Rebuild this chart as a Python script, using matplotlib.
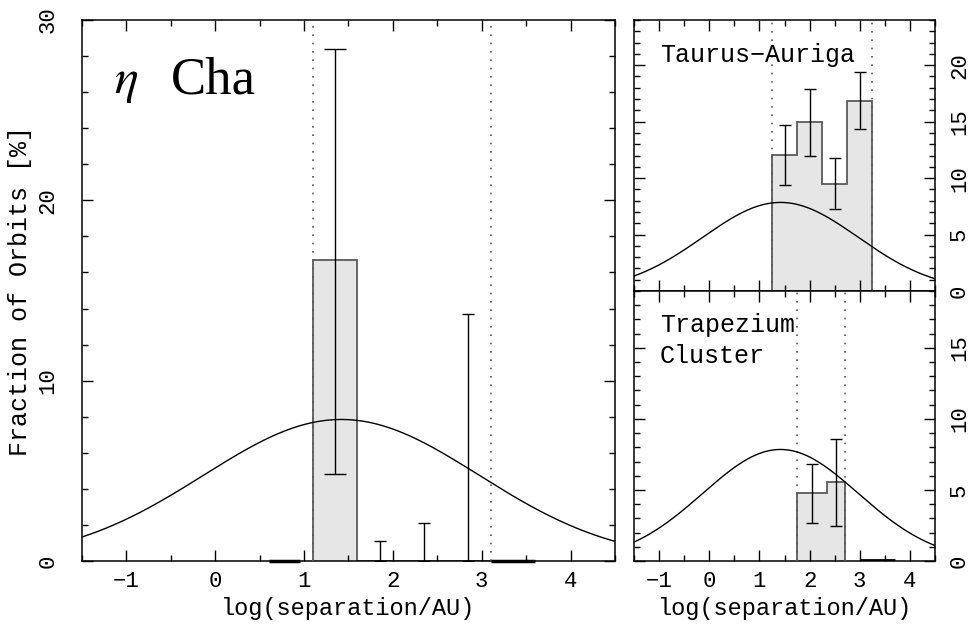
#!/usr/bin/env python3
"""
Separation distributions: eta Cha vs Taurus-Auriga and the Trapezium Cluster,
each compared with the field-star log-normal (peak, mean, width read off the plot).
"""

import numpy as np
import matplotlib.pyplot as plt
from matplotlib.ticker import MultipleLocator

# ---------------------------------------------------------------------------
# Data
# ---------------------------------------------------------------------------
# eta Cha (left panel)
ETA_EDGES = [1.1, 1.6, 2.1, 2.6, 3.1]
ETA_FRAC = [16.67, 0.0, 0.0, 0.0]
ETA_ERR_LOW = [4.85, 0.0, 0.0, 0.0]
ETA_ERR_HIGH = [28.4, 1.1, 2.1, 13.7]
ETA_CAP = [8, 4, 4, 4]
ETA_ZERO_BINS = [(0.6, 0.95), (3.1, 3.6)]
ETA_LIMITS = [1.1, 3.1]

# Taurus-Auriga (top right)
TAU_EDGES = [1.25, 1.75, 2.25, 2.75, 3.25]
TAU_FRAC = [12.05, 15.0, 9.5, 16.85]
TAU_ERR_LOW = [9.4, 12.0, 7.3, 14.35]
TAU_ERR_HIGH = [14.7, 17.9, 11.8, 19.4]
TAU_LIMITS = [1.25, 3.25]

# Trapezium Cluster (bottom right)
TRAP_EDGES = [1.75, 2.35, 2.70]
TRAP_FRAC = [4.76, 5.55]
TRAP_ERR_LOW = [2.69, 2.48]
TRAP_ERR_HIGH = [6.86, 8.62]
TRAP_ZERO_BIN = (3.0, 3.7, 0.1)
TRAP_LIMITS = [1.75, 2.70]

# field-star log-normal
DM_PEAK = 7.85
DM_MEAN = 1.42
DM_SIGMA = 1.55

XLIM = (-1.5, 4.5)

FILL = "#e6e6e6"
EDGE = "#5a5a5a"
MONO = "Liberation Mono"


def field_curve(x):
    return DM_PEAK * np.exp(-0.5 * ((x - DM_MEAN) / DM_SIGMA) ** 2)


def style_axes(ax, ymaj, ymin):
    ax.set_xlim(*XLIM)
    ax.xaxis.set_major_locator(MultipleLocator(1))
    ax.xaxis.set_minor_locator(MultipleLocator(0.5))
    ax.yaxis.set_major_locator(MultipleLocator(ymaj))
    ax.yaxis.set_minor_locator(MultipleLocator(ymin))
    ax.tick_params(which="both", direction="in", top=True, right=True,
                   width=1.0, colors="black")
    ax.tick_params(which="major", length=8)
    ax.tick_params(which="minor", length=4)
    for s in ax.spines.values():
        s.set_linewidth(1.1)


def draw_panel(ax, edges, frac, lo, hi, limits, caps=None):
    x = np.linspace(*XLIM, 400)
    ax.stairs(frac, edges, fill=True, color=FILL, zorder=1)
    ax.stairs(frac, edges, fill=False, edgecolor=EDGE, linewidth=1.3, zorder=2)
    for lim in limits:
        ax.axvline(lim, color=EDGE, linewidth=1.2, linestyle=(0, (1, 4)), zorder=3)
    ax.plot(x, field_curve(x), color="black", linewidth=1.0, zorder=4)
    centers = 0.5 * (np.array(edges[:-1]) + np.array(edges[1:]))
    if caps is None:
        caps = [4] * len(frac)
    for xc, y, l, h, c in zip(centers, frac, lo, hi, caps):
        ax.errorbar([xc], [y], yerr=[[y - l], [h - y]], fmt="none",
                    ecolor="black", elinewidth=1.0, capsize=c,
                    capthick=1.0, zorder=5)


def main():
    plt.rcParams.update({
        "font.family": [MONO, "DejaVu Sans"],
        "mathtext.fontset": "stix",
        "xtick.labelsize": 16,
        "ytick.labelsize": 16,
        "axes.labelsize": 17,
    })

    fig = plt.figure(figsize=(9.69, 6.30), dpi=100)
    ax_l = fig.add_axes([0.0846, 0.1095, 0.5500, 0.8587])
    ax_t = fig.add_axes([0.6543, 0.5380, 0.3106, 0.4302])
    ax_b = fig.add_axes([0.6543, 0.1095, 0.3106, 0.4286])

    # ---- eta Cha ---------------------------------------------------------
    draw_panel(ax_l, ETA_EDGES, ETA_FRAC, ETA_ERR_LOW, ETA_ERR_HIGH,
               ETA_LIMITS, ETA_CAP)
    for a, b in ETA_ZERO_BINS:
        ax_l.plot([a, b], [0, 0], color="black", linewidth=2.5, zorder=6,
                  solid_capstyle="butt", clip_on=False)
    ax_l.set_ylim(0, 30)
    style_axes(ax_l, 10, 2)
    ax_l.tick_params(axis="y", labelrotation=90, pad=17)
    for t in ax_l.get_yticklabels():
        t.set_va("center")
    ax_l.tick_params(axis="x", pad=7)
    ax_l.set_xlabel("log(separation/AU)", labelpad=4)
    ax_l.set_ylabel("Fraction of Orbits [%]", labelpad=4, fontsize=18)
    ax_l.text(0.083, 0.865, r"$\eta$", transform=ax_l.transAxes,
              fontsize=36, ha="center", va="baseline")
    ax_l.text(0.166, 0.865, "Cha", transform=ax_l.transAxes,
              fontsize=38, family="Liberation Serif", ha="left", va="baseline")

    # ---- Taurus-Auriga --------------------------------------------------
    draw_panel(ax_t, TAU_EDGES, TAU_FRAC, TAU_ERR_LOW, TAU_ERR_HIGH, TAU_LIMITS)
    ax_t.set_ylim(0, 24)
    style_axes(ax_t, 5, 1)
    ax_t.tick_params(axis="x", labelbottom=False)
    ax_t.tick_params(axis="y", labelleft=False, labelright=True,
                     labelrotation=90, pad=10)
    ax_t.text(0.086, 0.87, "Taurus\u2212Auriga", transform=ax_t.transAxes,
              fontsize=18, ha="left", va="center")

    # ---- Trapezium Cluster ---------------------------------------------
    draw_panel(ax_b, TRAP_EDGES, TRAP_FRAC, TRAP_ERR_LOW, TRAP_ERR_HIGH,
               TRAP_LIMITS)
    za, zb, zv = TRAP_ZERO_BIN
    ax_b.plot([za, zb], [zv, zv], color="black", linewidth=2.0, zorder=6,
              solid_capstyle="butt")
    ax_b.set_ylim(0, 19)
    style_axes(ax_b, 5, 1)
    ax_b.tick_params(axis="y", labelleft=False, labelright=True,
                     labelrotation=90, pad=10)
    ax_b.tick_params(axis="x", pad=7)
    ax_b.set_xlabel("log(separation/AU)", labelpad=4)
    ax_b.text(0.086, 0.874, "Trapezium", transform=ax_b.transAxes,
              fontsize=18, ha="left", va="center")
    ax_b.text(0.086, 0.759, "Cluster", transform=ax_b.transAxes,
              fontsize=18, ha="left", va="center")

    for ax in (ax_t, ax_b):
        for t in ax.get_yticklabels():
            t.set_va("center")

    fig.savefig("out.png", dpi=100)


if __name__ == "__main__":
    main()
